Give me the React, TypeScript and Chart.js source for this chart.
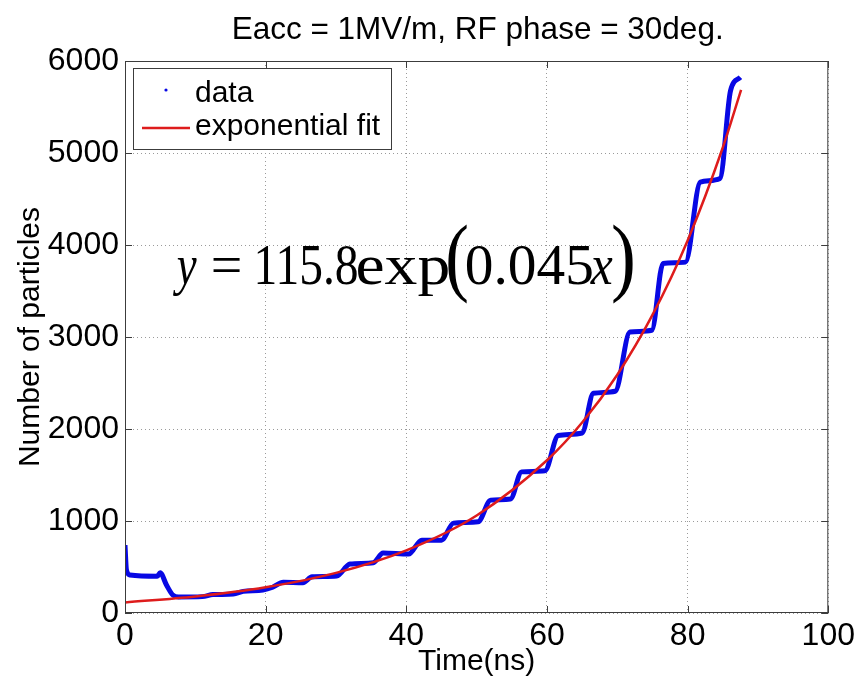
import React, { useEffect, useRef } from "react";
import { Chart, registerables } from "chart.js";

Chart.register(...registerables);

// ---- data ----
const timeNs = [
  0, 0.2, 0.7, 4.6, 5.0, 5.9, 6.8, 7.6, 11, 12.5, 15.4, 16.8, 19.6, 21.0,
  22.5, 25.3, 26.6, 30.1, 32.0, 35.3, 36.7, 40.3, 42.2, 45.0, 46.7, 50.2,
  52.0, 54.8, 56.4, 59.7, 61.6, 65.0, 66.6, 69.7, 71.8, 74.9, 76.5, 79.7,
  81.8, 84.6, 86.1, 87.5,
];
const particles = [
  738, 470, 413, 400, 437, 304, 195, 174, 178, 200, 206, 235, 250, 280,
  335, 329, 394, 402, 532, 546, 651, 640, 792, 792, 977, 991,
  1227, 1238, 1534, 1545, 1930, 1957, 2388, 2410, 3054, 3073, 3800, 3814,
  4683, 4723, 5679, 5823,
];
const fitTime = [0, 10, 20, 30, 40, 50, 60, 65, 70, 75, 80, 85, 87.6];
const fitParticles = [115, 180, 280, 436, 681, 1060, 1660, 2070, 2590, 3240, 4050, 5060, 5686];

const xTickValues = [0, 20, 40, 60, 80, 100];
const yTickValues = [0, 1000, 2000, 3000, 4000, 5000, 6000];

const chartTitle = "Eacc = 1MV/m, RF phase = 30deg.";
const xAxisLabel = "Time(ns)";
const yAxisLabel = "Number of particles";
const legendLabels = ["data", "exponential fit"];
const equationParts = ["y", "=", "115.8", "exp", "(", "0.045", "x", ")"];

const SANS = "'Liberation Sans', Arial, Helvetica, sans-serif";
const SERIF = "'Liberation Serif', 'Times New Roman', serif";
const DATA_BLUE = "rgb(8,8,228)";
const FIT_RED = "rgb(222,28,28)";

const framePlugin = {
  id: "matlabFrame",
  afterDatasetsDraw(chart: any) {
    const { ctx, chartArea: a, scales } = chart;
    const xs = scales.x;
    const ys = scales.y;
    ctx.save();

    // axes box
    ctx.strokeStyle = "#3c3c3c";
    ctx.lineWidth = 1;
    ctx.setLineDash([]);
    ctx.strokeRect(a.left + 0.5, a.top + 0.5, a.right - a.left - 1, a.bottom - a.top - 1);

    // inward tick marks
    const tl = 7;
    ctx.beginPath();
    xTickValues.forEach((v) => {
      const px = Math.round(xs.getPixelForValue(v)) + 0.5;
      ctx.moveTo(px, a.bottom);
      ctx.lineTo(px, a.bottom - tl);
      ctx.moveTo(px, a.top);
      ctx.lineTo(px, a.top + tl);
    });
    yTickValues.forEach((v) => {
      const py = Math.round(ys.getPixelForValue(v)) + 0.5;
      ctx.moveTo(a.left, py);
      ctx.lineTo(a.left + tl, py);
      ctx.moveTo(a.right, py);
      ctx.lineTo(a.right - tl, py);
    });
    ctx.stroke();

    // legend
    const lx = a.left + 8;
    const ly = a.top + 7;
    const lw = 258;
    const lh = 81;
    ctx.fillStyle = "#fff";
    ctx.fillRect(lx, ly, lw, lh);
    ctx.strokeStyle = "#3c3c3c";
    ctx.strokeRect(lx + 0.5, ly + 0.5, lw, lh);
    ctx.fillStyle = DATA_BLUE;
    ctx.beginPath();
    ctx.arc(lx + 33, ly + 22, 1.6, 0, Math.PI * 2);
    ctx.fill();
    ctx.strokeStyle = FIT_RED;
    ctx.lineWidth = 2.5;
    ctx.beginPath();
    ctx.moveTo(lx + 9, ly + 60);
    ctx.lineTo(lx + 57, ly + 60);
    ctx.stroke();
    ctx.fillStyle = "#000";
    ctx.font = `30px ${SANS}`;
    ctx.textAlign = "left";
    ctx.textBaseline = "alphabetic";
    ctx.fillText(legendLabels[0], lx + 62, ly + 34);
    ctx.fillText(legendLabels[1], lx + 62, ly + 67);

    // equation annotation (each piece fitted to its width in the reference)
    const ex = xs.getPixelForValue(6.8);
    const ey = ys.getPixelForValue(3580);
    const starts = [0, 40, 84, 185, 275, 294, 417, 440];
    const widths = [24, 27, 100, 90, 19, 125, 23, 20];
    const fonts = [
      `italic 56px ${SERIF}`,
      `56px ${SERIF}`,
      `56px ${SERIF}`,
      `56px ${SERIF}`,
      `86px ${SERIF}`,
      `56px ${SERIF}`,
      `italic 56px ${SERIF}`,
      `86px ${SERIF}`,
    ];
    equationParts.forEach((t, i) => {
      ctx.font = fonts[i];
      const m = ctx.measureText(t);
      const ink = (m.actualBoundingBoxRight || m.width) + (m.actualBoundingBoxLeft || 0);
      const sx = widths[i] / Math.max(1, ink);
      ctx.save();
      ctx.translate(ex + starts[i], ey + (i === 4 || i === 7 ? 1 : 0));
      ctx.scale(sx, 1);
      ctx.fillText(t, m.actualBoundingBoxLeft || 0, 0);
      ctx.restore();
    });

    // title
    ctx.font = `31.5px ${SANS}`;
    ctx.textAlign = "center";
    ctx.textBaseline = "middle";
    ctx.fillText(chartTitle, (a.left + a.right) / 2 + 1, 30);
    ctx.restore();
  },
};

export default function App() {
  const ref = useRef<HTMLCanvasElement | null>(null);

  useEffect(() => {
    if (!ref.current) return;
    const chart = new Chart(ref.current, {
      type: "line",
      data: {
        datasets: [
          {
            label: legendLabels[0],
            data: timeNs.map((t, i) => ({ x: t, y: particles[i] })),
            borderColor: DATA_BLUE,
            backgroundColor: DATA_BLUE,
            borderWidth: 5,
            pointRadius: 0,
            cubicInterpolationMode: "monotone",
            order: 2,
          },
          {
            label: legendLabels[1],
            data: fitTime.map((t, i) => ({ x: t, y: fitParticles[i] })),
            borderColor: FIT_RED,
            backgroundColor: FIT_RED,
            borderWidth: 2.5,
            pointRadius: 0,
            cubicInterpolationMode: "monotone",
            order: 1,
          },
        ],
      },
      options: {
        responsive: false,
        animation: false,
        devicePixelRatio: 1,
        layout: { padding: { top: 61, right: 30, left: 0, bottom: 0 } },
        plugins: {
          legend: { display: false },
          title: { display: false },
          tooltip: { enabled: false },
        },
        scales: {
          x: {
            type: "linear",
            min: 0,
            max: 100,
            afterBuildTicks: (s: any) => {
              s.ticks = xTickValues.map((v) => ({ value: v }));
            },
            afterFit: (s: any) => {
              s.height = 73;
            },
            grid: { color: "#9a9a9a", lineWidth: 1, drawTicks: false },
            border: { display: false, dash: [1, 3] },
            ticks: {
              color: "#000",
              font: { family: SANS, size: 32 },
              padding: 4,
              maxRotation: 0,
              autoSkip: false,
            },
            title: {
              display: true,
              text: xAxisLabel,
              color: "#000",
              font: { family: SANS, size: 30 },
              padding: { top: 0, bottom: 6 },
            },
          },
          y: {
            type: "linear",
            min: 0,
            max: 6000,
            afterBuildTicks: (s: any) => {
              s.ticks = yTickValues.map((v) => ({ value: v }));
            },
            afterFit: (s: any) => {
              s.width = 125;
            },
            grid: { color: "#9a9a9a", lineWidth: 1, drawTicks: false },
            border: { display: false, dash: [1, 3] },
            ticks: {
              color: "#000",
              font: { family: SANS, size: 32 },
              padding: 6,
              autoSkip: false,
              callback: (v: any) => String(v),
            },
            title: {
              display: true,
              text: yAxisLabel,
              color: "#000",
              font: { family: SANS, size: 30 },
              padding: { top: 13, bottom: 0 },
            },
          },
        },
      },
      plugins: [framePlugin],
    } as any);
    return () => chart.destroy();
  }, []);

  return (
    <div style={{ position: "absolute", left: 0, top: 0, width: 859, height: 686, background: "#fff" }}>
      <canvas ref={ref} width={859} height={686} style={{ display: "block" }} />
    </div>
  );
}
